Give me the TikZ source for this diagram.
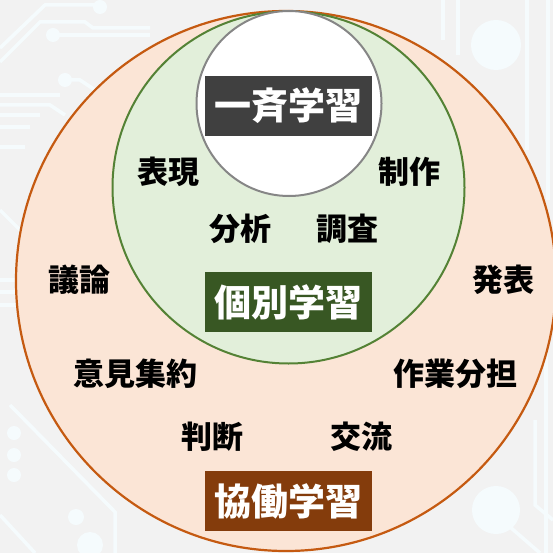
\documentclass[tikz,border=0pt]{standalone}
\usepackage{fontspec}
\newfontfamily\jp{Noto Sans CJK JP}
\definecolor{bgc}{HTML}{F2F2F2}
\definecolor{trace}{HTML}{F5FBFD}
\definecolor{outerfill}{HTML}{FBE5D6}
\definecolor{outerline}{HTML}{C55A11}
\definecolor{midfill}{HTML}{E2EFDA}
\definecolor{midline}{HTML}{548235}
\definecolor{innerline}{HTML}{868686}
\definecolor{boxgray}{HTML}{404040}
\definecolor{boxgreen}{HTML}{385723}
\definecolor{boxbrown}{HTML}{843C0C}
\tikzset{
  word/.style={font=\jp\bfseries\fontsize{31}{31}\selectfont, text=black, inner sep=0pt},
  titlebox/.style={minimum width=167pt, minimum height=60pt, inner sep=0pt,
    font=\jp\bfseries\fontsize{37}{37}\selectfont, text=white},
  tr/.style={draw=trace, line width=3.5pt},
  dot/.style={fill=trace}
}
\begin{document}
\begin{tikzpicture}[x=1pt,y=-1pt]
\useasboundingbox (0,0) rectangle (553,553);
\fill[bgc] (0,0) rectangle (553,553);
% faint circuit background
\draw[tr] (0,48) -- (45,5) -- (100,5);
\fill[dot] (100,7) circle (7);
\draw[tr] (0,62) -- (40,22) -- (85,22) -- (93,28) -- (150,28);
\fill[dot] (53,35) circle (7);
\draw[tr] (53,35) -- (150,35);
\fill[dot] (65,80) circle (7);
\draw[tr] (65,80) -- (80,80) -- (95,90) -- (120,90);
\draw[tr] (0,95) -- (60,95);
\draw[tr] (0,105) -- (50,105) -- (65,115);
\draw[tr] (0,115) -- (40,115);
\draw[tr] (0,127) -- (30,127);
\draw[tr] (0,147) -- (25,147);
\draw[tr] (0,280) -- (20,280);
\draw[tr] (0,292) -- (20,292);
\draw[tr] (0,305) -- (20,305);
\draw[tr] (0,210) -- (25,235);
\fill[dot] (14,433) circle (7);
\fill[dot] (14,455) circle (7);
\fill[dot] (14,475) circle (7);
\fill[dot] (76,517) circle (8);
\fill[dot] (90,545) circle (13);
\draw[tr] (10,405) -- (115,512) -- (115,553);
\draw[tr] (0,515) -- (35,553);
\fill[dot] (496,510) circle (24);
\draw[tr] (510,527) -- (540,553);
\draw[tr] (535,420) -- (535,505) -- (553,520);
\fill[dot] (496,45) circle (25);
\draw[tr] (443,0) -- (443,40);
\draw[tr] (458,0) -- (458,55);
\draw[tr] (527,0) -- (527,150);
\draw[tr] (548,0) -- (548,200);
\draw[tr] (546,330) -- (546,553);
% circles
\node[circle, draw=outerline, fill=outerfill, line width=2.2pt, minimum size=540pt, inner sep=0pt] (outer) at (286,281) {};
\node[circle, draw=midline, fill=midfill, line width=2pt, minimum size=352pt, inner sep=0pt] (mid) at (288.5,187.5) {};
\node[circle, draw=innerline, fill=white, line width=2pt, minimum size=185pt, inner sep=0pt] (inner) at (289,103.5) {};
% title boxes
\node[titlebox, fill=boxgray] (issei) at (288.5,106) {一斉学習};
\node[titlebox, fill=boxgreen] (kobetsu) at (288.5,302) {個別学習};
\node[titlebox, fill=boxbrown] (kyodo) at (288.5,501) {協働学習};
% words
\node[word] (hyogen) at (168,172) {表現};
\node[word] (seisaku) at (409,172) {制作};
\node[word] (bunseki) at (240,229) {分析};
\node[word] (chosa) at (347,229) {調査};
\node[word] (giron) at (79,280) {議論};
\node[word] (happyo) at (503,280) {発表};
\node[word] (iken) at (135,374) {意見集約};
\node[word] (sagyo) at (455,374) {作業分担};
\node[word] (handan) at (212,437) {判断};
\node[word] (koryu) at (361,437) {交流};
\end{tikzpicture}
\end{document}
